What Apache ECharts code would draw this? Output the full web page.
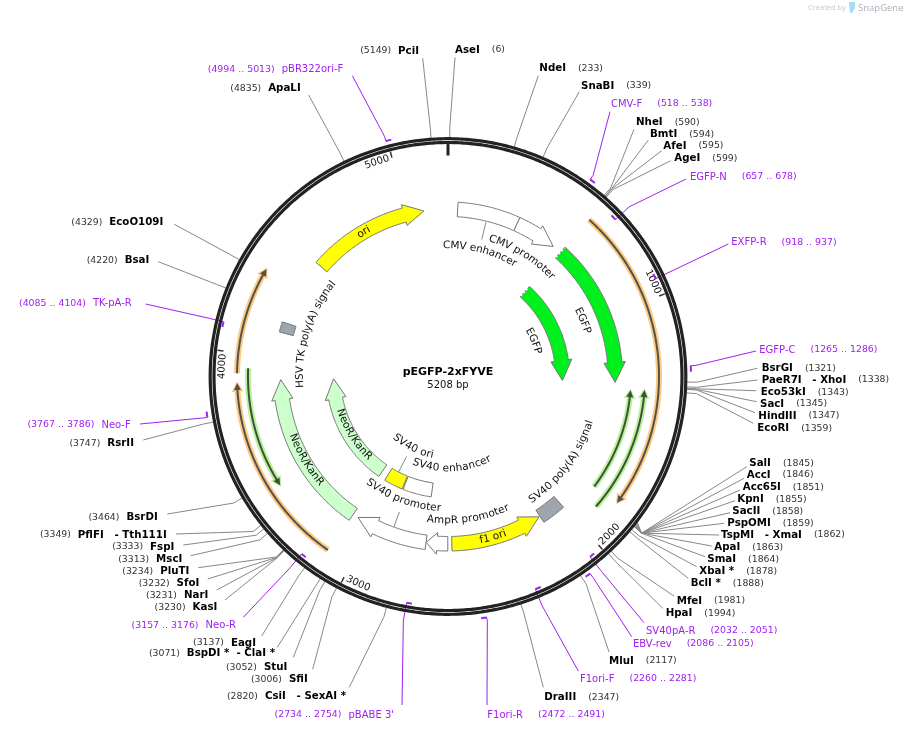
<!DOCTYPE html>
<html>
<head>
<meta charset="utf-8">
<title>pEGFP-2xFYVE</title>
<style>
  html, body { margin: 0; padding: 0; background: #fff; }
  #plasmid { width: 906px; height: 732px; }
</style>
<script src="https://cdn.jsdelivr.net/npm/echarts@6/dist/echarts.min.js"></script>
</head>
<body>
<div id="plasmid"></div>
<script>
// ---- data (all in base pairs) ----
const plasmidName = 'pEGFP-2xFYVE';
const plasmidSize = 5208;
const tickValues = [1000, 2000, 3000, 4000, 5000];

const siteNames = ['AseI', 'NdeI', 'SnaBI', 'NheI', 'BmtI', 'AfeI', 'AgeI',
  'BsrGI', 'PaeR7I   - XhoI', 'Eco53kI', 'SacI', 'HindIII', 'EcoRI',
  'SalI', 'AccI', 'Acc65I', 'KpnI', 'SacII', 'PspOMI', 'TspMI   - XmaI', 'ApaI', 'SmaI', 'XbaI *', 'BclI *',
  'MfeI', 'HpaI', 'MluI', 'DraIII', 'CsiI   - SexAI *', 'SfiI', 'StuI', 'BspDI *  - ClaI *', 'EagI',
  'KasI', 'NarI', 'SfoI', 'PluTI', 'MscI', 'FspI', 'PflFI   - Tth111I', 'BsrDI', 'RsrII',
  'BsaI', 'EcoO109I', 'ApaLI', 'PciI'];
const sitePositions = [6, 233, 339, 590, 594, 595, 599,
  1321, 1338, 1343, 1345, 1347, 1359,
  1845, 1846, 1851, 1855, 1858, 1859, 1862, 1863, 1864, 1878, 1888,
  1981, 1994, 2117, 2347, 2820, 3006, 3052, 3071, 3137,
  3230, 3231, 3232, 3234, 3313, 3333, 3349, 3464, 3747,
  4220, 4329, 4835, 5149];

const primerNames = ['pBR322ori-F', 'CMV-F', 'EGFP-N', 'EXFP-R', 'EGFP-C', 'SV40pA-R', 'EBV-rev',
  'F1ori-F', 'F1ori-R', "pBABE 3'", 'Neo-R', 'Neo-F', 'TK-pA-R'];
const primerStarts = [4994, 518, 657, 918, 1265, 2032, 2086, 2260, 2472, 2734, 3157, 3767, 4085];
const primerEnds = [5013, 538, 678, 937, 1286, 2051, 2105, 2281, 2491, 2754, 3176, 3786, 4104];

const featureNames = ['CMV enhancer', 'CMV promoter', 'EGFP', 'EGFP', 'SV40 poly(A) signal', 'f1 ori',
  'AmpR promoter', 'SV40 promoter', 'SV40 enhancer', 'SV40 ori', 'NeoR/KanR', 'NeoR/KanR',
  'HSV TK poly(A) signal', 'ori'];
const featureStarts = [48, 352, 610, 610, 2004, 2127, 2605, 2713, 2719, 2925, 3103, 3106, 4120, 4497];
const featureEnds = [352, 564, 1331, 1331, 2122, 2585, 2712, 3075, 2918, 3058, 3890, 3890, 4170, 5088];
// 1 points clockwise, -1 counter clockwise, 0 plain box
const featureDirs = [0, 1, 1, 1, 0, -1, 1, 1, 0, 0, 1, 1, 0, 1];

const orfStarts = [608, 1837, 1900, 3106, 3919, 3940];
const orfEnds = [1840, 1357, 1353, 3886, 4355, 3423];

// ---- layout and looks ----
const FONT = "'DejaVu Sans'";
const CX = 448, CY = 376.5;
const OUTER = [160, 174.5], INNER = [107.5, 121.5];
const GREY = '#9ea5af', WHITE = '#ffffff', YELLOW = '#ffff00', GREEN = '#00f01e', PALE = '#ccffcc';
const PURPLE = '#a020f0';

const featureTracks = [OUTER, OUTER, OUTER, INNER, OUTER, OUTER, OUTER, OUTER, INNER, INNER, OUTER, INNER, OUTER, OUTER];
const featureFills = [WHITE, WHITE, GREEN, GREEN, GREY, YELLOW, WHITE, WHITE, WHITE, YELLOW, PALE, PALE, GREY, YELLOW];
const featureBroken = [0, 0, 1, 1, 0, 0, 0, 0, 0, 0, 0, 0, 0, 0];
// label centre: bp along the circle, radius
const featureLabels = [[210, 131], [458, 144], [976, 146], [976, 93], [1836, 149], [2378, 167],
  [2486, 144], [2899, 132], [2568, 92], [2985, 80], [3467, 166], [3449, 113], [4160, 148], [4770, 167]];
// short stalk joining a box to a label that sits away from it: bp, r from, r to
const featureStalks = [[200, 159, 141], null, null, null, null, null, null, [2890, 160, 144], null, [3000, 107.5, 90], null, null, null, null];

const orfRadii = [211, 183, 197, 211, 211, 200];
const orfGlows = ['#fbcb85', '#b9f29b', '#b9f29b', '#fbcb85', '#fbcb85', '#b9f29b'];
const orfCores = ['#55504a', '#3f5038', '#3f5038', '#55504a', '#55504a', '#3f5038'];

const primerRadii = [243.5, 243, 229.5, 229.5, 243, 229.5, 243, 230, 244, 230, 230, 244, 231];
// which end of the mark the leader leaves from: 0 start, 1 end
const primerLeadEnds = [0, 0, 1, 1, 0, 1, 0, 1, 0, 1, 1, 0, 1];
// label x, label y, leader end x, leader end y
const primerSpots = [[343.3, 69.3, 352.3, 75.7], [611, 104, 610, 111.7], [690, 177, 686, 179], [731.3, 242.3, 728.3, 244],
  [759.3, 350, 756, 351], [646, 631, 644, 622.7], [633, 644, 631.7, 636.7], [580, 679, 578.3, 671],
  [487.3, 715, 487, 705], [394, 715, 402, 705], [236, 625.3, 243.3, 617.3], [130.7, 425, 140, 424], [131.7, 303.3, 145.7, 304]];
// label x, label y, leader end x, leader end y, optional bp of the elbow
const siteSpots = [[455, 50, 455, 57.3], [539.3, 68.3, 538.3, 75.7], [581, 86, 579.3, 91.7], [636, 122.3, 634, 129.3],
  [650, 134.3, 648.3, 140], [663.3, 146, 661.7, 150.7], [674.3, 158.3, 670.7, 160.7],
  [761.7, 368.3, 757.3, 368.3], [761.7, 380, 757.3, 380], [760.7, 392.3, 756, 390.7], [760, 404, 756.7, 401.7],
  [758.3, 416, 755, 412.7], [757.3, 428.3, 753.3, 423.3],
  [749.3, 463.3, 746.7, 466.7, 1866], [746.7, 475, 744, 478.3, 1866], [742.7, 487.3, 740, 490, 1866], [737.3, 499.3, 735, 500.7, 1866],
  [732.3, 511.3, 730, 512.7, 1866], [727.3, 523.3, 724, 523.3, 1866], [721, 535, 719, 535, 1866], [714.3, 547.3, 711.7, 546, 1866],
  [707.3, 559.3, 705, 556.7, 1866], [699.3, 571.7, 696.7, 566.7], [690.7, 583.3, 688.3, 578.3],
  [676.7, 601, 674, 596], [665.7, 613.3, 662.7, 608.3], [609, 661, 609, 652], [544.3, 697.3, 543.3, 687.3],
  [346, 696.7, 349.3, 687.3], [307.7, 679.3, 312.7, 669.3], [287.3, 667.3, 293.3, 657.3], [275, 653.3, 277.3, 647.3], [256, 643, 261.7, 636],
  [217.3, 607.3, 225, 600], [208.3, 595.3, 216.7, 590], [199.3, 583.3, 207.7, 579], [189.3, 571.3, 198.3, 567.7],
  [182.3, 559.3, 190.7, 555.7], [174.3, 547, 183.3, 545], [166.7, 535, 176, 534], [157.7, 517.3, 167.3, 514], [134, 443.3, 143.3, 440],
  [149.3, 260.7, 158.3, 261.7], [163.3, 222.3, 174.3, 224.3], [300.7, 88.3, 308.7, 95], [419, 51, 422.7, 58.3]];

// ---- helpers, everything goes through api.coord([radius, bp]) ----
const measureCtx = document.createElement('canvas').getContext('2d');

function bpPerPx(r) {
  return plasmidSize / (2 * Math.PI * r);
}

function arcPoints(api, r, from, to) {
  const n = Math.max(1, Math.ceil(Math.abs(to - from) / 8));
  const pts = [];
  for (let i = 0; i <= n; i++) {
    pts.push(api.coord([r, from + (to - from) * i / n]));
  }
  return pts;
}

function line(points, stroke, width, extra) {
  return {
    type: 'polyline',
    shape: { points: points },
    style: Object.assign({ fill: null, stroke: stroke, lineWidth: width }, extra || {})
  };
}

// one text element per character so the label bends with the circle
function curvedText(api, text, bp, r, size, fill) {
  const font = size + 'px ' + FONT;
  measureCtx.font = font;
  const total = measureCtx.measureText(text).width;
  const angle = bp / plasmidSize * 2 * Math.PI;
  const clockwise = Math.cos(angle) > 0;
  const kids = [];
  let walked = 0;
  for (const ch of text) {
    const w = measureCtx.measureText(ch).width;
    const off = (walked + w / 2 - total / 2) * bpPerPx(r);
    const at = clockwise ? bp + off : bp - off;
    const theta = at / plasmidSize * 2 * Math.PI;
    const p = api.coord([r, at]);
    kids.push({
      type: 'text',
      x: p[0],
      y: p[1],
      rotation: clockwise ? -theta : Math.PI - theta,
      style: { text: ch, font: font, fill: fill, align: 'center', verticalAlign: 'middle' }
    });
    walked += w;
  }
  return kids;
}

function richLabel(x, y, toRight, name, pos, nameStyle, posStyle, gapRight, gapLeft) {
  const n = Object.assign({}, nameStyle);
  const p = Object.assign({}, posStyle);
  if (toRight) {
    p.padding = [0, 0, 0, gapRight];
  } else {
    n.padding = [0, 0, 0, gapLeft];
  }
  return {
    type: 'text',
    x: x,
    y: y,
    style: {
      text: toRight ? '{n|' + name + '}{p|' + pos + '}' : '{p|' + pos + '}{n|' + name + '}',
      align: toRight ? 'left' : 'right',
      verticalAlign: 'middle',
      rich: { n: n, p: p }
    }
  };
}

const siteNameStyle = { fontFamily: FONT, fontWeight: 'bold', fontSize: 10.25, fill: '#000', color: '#000' };
const sitePosStyle = { fontFamily: FONT, fontSize: 9.3, fill: '#333', color: '#333' };
const primerNameStyle = { fontFamily: FONT, fontSize: 10, fill: PURPLE, color: PURPLE };
const primerPosStyle = { fontFamily: FONT, fontSize: 9.4, fill: PURPLE, color: PURPLE };

// ---- render functions ----
function renderSiteLeader(params, api) {
  const i = params.dataIndex;
  const bp = sitePositions[i];
  const s = siteSpots[i];
  const elbowBp = s[4] || bp;
  return line([api.coord([238, bp]), api.coord([249, elbowBp]), [s[2], s[3]]], '#888', 1);
}

function renderPrimerLeader(params, api) {
  const i = params.dataIndex;
  const s = primerSpots[i];
  const bp = primerLeadEnds[i] ? primerEnds[i] : primerStarts[i];
  return line([api.coord([primerRadii[i], bp]), api.coord([248, bp]), [s[2], s[3]]], PURPLE, 1);
}

function renderRing(params, api) {
  return {
    type: 'group',
    children: [
      line(arcPoints(api, 237.8, 0, plasmidSize), '#222', 3.2),
      line(arcPoints(api, 234, 0, plasmidSize), '#222', 3.2),
      line([api.coord([221, 0]), api.coord([233, 0])], '#222', 3)
    ]
  };
}

function renderTick(params, api) {
  const v = tickValues[params.dataIndex];
  return {
    type: 'group',
    children: [line([api.coord([226, v]), api.coord([232, v])], '#333', 1.5)]
      .concat(curvedText(api, String(v), v - 15.5 * bpPerPx(226), 226, 10, '#111'))
  };
}

function renderPrimerMark(params, api) {
  const i = params.dataIndex;
  return line(arcPoints(api, primerRadii[i], primerStarts[i], primerEnds[i]), PURPLE, 2);
}

function renderOrf(params, api) {
  const i = params.dataIndex;
  const r = orfRadii[i];
  const from = orfStarts[i], to = orfEnds[i];
  const dir = to > from ? 1 : -1;
  const bpx = bpPerPx(r);
  const head = function (len, half, tipBack, fill) {
    const tip = to - dir * tipBack * bpx;
    const base = tip - dir * len * bpx;
    return {
      type: 'polygon',
      shape: { points: [api.coord([r + half, base]), api.coord([r, tip]), api.coord([r - half, base])] },
      style: { fill: fill }
    };
  };
  return {
    type: 'group',
    children: [
      line(arcPoints(api, r, from, to - dir * 7 * bpx), orfGlows[i], 6),
      head(10, 6, 0, orfGlows[i]),
      line(arcPoints(api, r, from, to - dir * 6 * bpx), orfCores[i], 2),
      head(7, 3.5, 1.5, orfCores[i])
    ]
  };
}

function renderFeature(params, api) {
  const i = params.dataIndex;
  const r0 = featureTracks[i][0], r1 = featureTracks[i][1];
  const from = featureStarts[i], to = featureEnds[i];
  const dir = featureDirs[i];
  let pts;
  if (dir === 0) {
    pts = arcPoints(api, r1, from, to).concat(arcPoints(api, r0, to, from));
  } else {
    const mid = (r0 + r1) / 2;
    const tail = dir > 0 ? from : to;
    const tip = dir > 0 ? to : from;
    const headBp = Math.min(20 * bpPerPx(mid), (to - from) / 2);
    const base = tip - dir * headBp;
    pts = arcPoints(api, r1, tail, base)
      .concat([api.coord([r1 + 3.5, base]), api.coord([mid, tip]), api.coord([r0 - 3.5, base])])
      .concat(arcPoints(api, r0, base, tail));
  }
  const kids = [{
    type: 'polygon',
    shape: { points: pts },
    style: { fill: featureFills[i], stroke: '#777', lineWidth: 1 }
  }];
  if (featureBroken[i]) {
    kids.push(line([api.coord([r0 + 1, from]), api.coord([r1 - 1, from])], '#fff', 1.5, { lineDash: [2, 2] }));
  }
  if (featureStalks[i]) {
    const st = featureStalks[i];
    kids.push(line([api.coord([st[1], st[0]]), api.coord([st[2], st[0]])], '#888', 1));
  }
  return {
    type: 'group',
    children: kids.concat(curvedText(api, featureNames[i], featureLabels[i][0], featureLabels[i][1], 10.5, '#111'))
  };
}

function renderSiteText(params, api) {
  const i = params.dataIndex;
  const s = siteSpots[i];
  return richLabel(s[0], s[1], s[2] > CX, siteNames[i], '(' + sitePositions[i] + ')', siteNameStyle, sitePosStyle, 12, 7);
}

function renderPrimerText(params, api) {
  const i = params.dataIndex;
  const s = primerSpots[i];
  return richLabel(s[0], s[1], s[2] > CX, primerNames[i], '(' + primerStarts[i] + ' .. ' + primerEnds[i] + ')',
    primerNameStyle, primerPosStyle, 15, 7);
}

function customSeries(z, values, renderItem) {
  return {
    type: 'custom',
    coordinateSystem: 'polar',
    encode: { radius: 0, angle: 1 },
    silent: true,
    z: z,
    data: values.map(function (v) { return [200, v]; }),
    renderItem: renderItem
  };
}

const chart = echarts.init(document.getElementById('plasmid'), null, { renderer: 'canvas' });

chart.setOption({
  animation: false,
  backgroundColor: '#fff',
  polar: { center: [CX, CY], radius: 240 },
  angleAxis: { type: 'value', min: 0, max: plasmidSize, startAngle: 90, clockwise: true, show: false },
  radiusAxis: { type: 'value', min: 0, max: 240, show: false },
  graphic: [
    { type: 'text', x: 448, y: 372, z: 20, style: { text: plasmidName, font: 'bold 11px ' + FONT, fill: '#000', align: 'center', verticalAlign: 'middle' } },
    { type: 'text', x: 448, y: 385, z: 20, style: { text: plasmidSize + ' bp', font: '10px ' + FONT, fill: '#111', align: 'center', verticalAlign: 'middle' } },
    // SnapGene stamp, top right
    { type: 'text', x: 808, y: 8, z: 20, style: { text: 'Created by', font: "7.5px 'Open Sans'", fill: '#c4c8cc', align: 'left', verticalAlign: 'middle' } },
    { type: 'polygon', z: 20, shape: { points: [[849, 2], [855, 2], [855, 8], [852, 13], [850, 13]] }, style: { fill: '#a5dcf5' } },
    { type: 'text', x: 858, y: 8, z: 20, style: { text: 'SnapGene', font: "9.5px 'Open Sans'", fill: '#a9b2bb', align: 'left', verticalAlign: 'middle' } }
  ],
  series: [
    customSeries(1, sitePositions, renderSiteLeader),
    customSeries(2, primerStarts, renderPrimerLeader),
    customSeries(3, [0], renderRing),
    customSeries(4, tickValues, renderTick),
    customSeries(5, primerStarts, renderPrimerMark),
    customSeries(6, orfStarts, renderOrf),
    customSeries(7, featureStarts, renderFeature),
    customSeries(8, sitePositions, renderSiteText),
    customSeries(9, primerStarts, renderPrimerText)
  ]
});
</script>
</body>
</html>
